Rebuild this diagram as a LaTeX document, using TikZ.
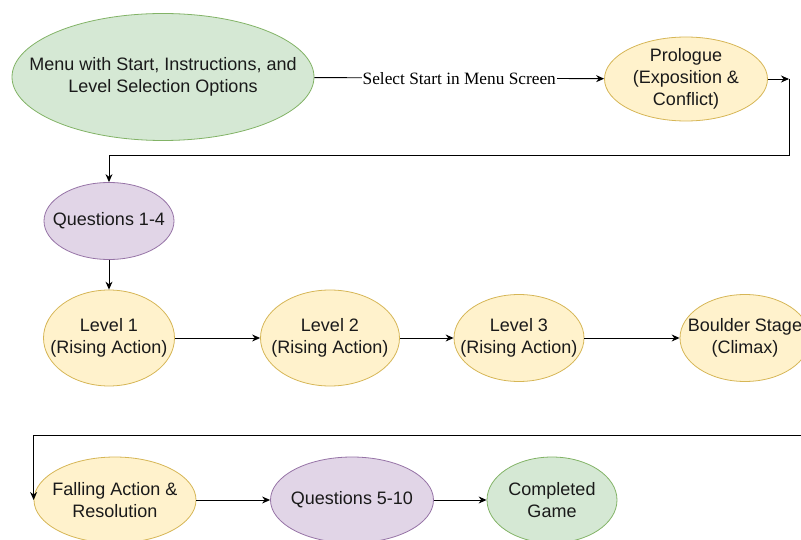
\documentclass[tikz,border=0pt]{standalone}
\usepackage{fontspec}
\setmainfont{Liberation Sans}
\newfontfamily\serifl{Liberation Serif}
\usetikzlibrary{shapes.geometric,arrows.meta}
\definecolor{gfill}{HTML}{D5E8D4}\definecolor{gline}{HTML}{82B366}
\definecolor{yfill}{HTML}{FFF2CC}\definecolor{yline}{HTML}{D6B656}
\definecolor{pfill}{HTML}{E1D5E7}\definecolor{pline}{HTML}{9673A6}
\definecolor{txt}{HTML}{1A1A1A}
\tikzset{
  el/.style={ellipse, inner sep=0pt, line width=0.8pt},
  txtl/.style={align=center, font=\fontsize{18}{22}\selectfont, text=txt, inner sep=0pt},
  grn/.style={el, fill=gfill, draw=gline},
  yel/.style={el, fill=yfill, draw=yline},
  pur/.style={el, fill=pfill, draw=pline},
  arr/.style={-{Stealth[length=8pt,width=7pt]}, line width=0.9pt},
  lbl/.style={fill=white, inner sep=1pt, font=\serifl\fontsize{17.3}{19}\selectfont}
}
\begin{document}
\begin{tikzpicture}[x=1pt,y=-1pt]
\useasboundingbox (0,0) rectangle (801,540);
\clip (0,0) rectangle (801,540);
\node[grn, minimum width=302pt, minimum height=127pt] (menu) at (163,77) {};
\node[txtl] (menut) at (menu) {Menu with Start, Instructions, and\\Level Selection Options};
\node[yel, minimum width=163pt, minimum height=84pt] (pro) at (686,79) {};
\node[txtl] (prot) at (pro) {Prologue\\(Exposition \&\\Conflict)};
\node[pur, minimum width=130pt, minimum height=77pt] (q1) at (109,221) {};
\node[txtl] (q1t) at (q1) {Questions 1-4};
\node[yel, minimum width=131pt, minimum height=96pt] (l1) at (109,338) {};
\node[txtl] (l1t) at (l1) {Level 1\\(Rising Action)};
\node[yel, minimum width=139pt, minimum height=96pt] (l2) at (330,338) {};
\node[txtl] (l2t) at (l2) {Level 2\\(Rising Action)};
\node[yel, minimum width=130pt, minimum height=87pt] (l3) at (519,338) {};
\node[txtl] (l3t) at (l3) {Level 3\\(Rising Action)};
\node[yel, minimum width=130pt, minimum height=87pt] (bs) at (745,338) {};
\node[txtl] (bst) at (bs) {Boulder Stage\\(Climax)};
\node[yel, minimum width=162pt, minimum height=86pt] (fa) at (115,500) {};
\node[txtl] (fat) at (fa) {Falling Action \&\\Resolution};
\node[pur, minimum width=163pt, minimum height=86pt] (q5) at (352,500) {};
\node[txtl] (q5t) at (q5) {Questions 5-10};
\node[grn, minimum width=130pt, minimum height=86pt] (cg) at (552,500) {};
\node[txtl] (cgt) at (cg) {Completed\\Game};
\coordinate (pe) at (789,79);
\coordinate (ph) at (789,155);
\coordinate (re) at (801,435);
\draw[arr] (menu) -- node[lbl] {Select Start in Menu Screen} (pro);
\draw[arr] (pro) -- (pe);
\draw[arr] (pe) -- (ph) -| (q1);
\draw[arr] (q1) -- (l1);
\draw[arr] (l1) -- (l2);
\draw[arr] (l2) -- (l3);
\draw[arr] (l3) -- (bs);
\draw[arr] (re) -| (fa.west);
\draw[arr] (fa) -- (q5);
\draw[arr] (q5) -- (cg);
\end{tikzpicture}
\end{document}
